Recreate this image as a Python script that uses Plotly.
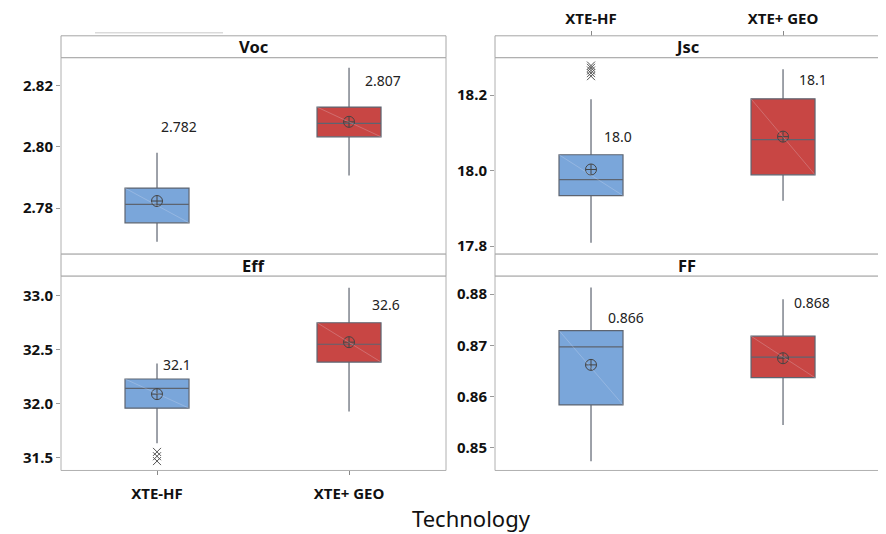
import plotly.graph_objects as go

PAGE_W, PAGE_H = 886, 534
OFF = 8  # default page body margin
W, H = PAGE_W - OFF, PAGE_H - OFF

groups = ["XTE-HF", "XTE+ GEO"]
group_pos = [0, 1]
fill_colors = ["#7aa6da", "#c84644"]

# ---- data (per group: XTE-HF, XTE+ GEO) ----
voc_low = [2.769, 2.7906]
voc_q1 = [2.7752, 2.8032]
voc_median = [2.7812, 2.8076]
voc_q3 = [2.7865, 2.8129]
voc_high = [2.798, 2.8257]
voc_mean = [2.7823, 2.8081]
voc_outliers = [[], []]
voc_labels = ["2.782", "2.807"]
voc_label_y = [2.8065, 2.8216]
voc_label_dx = [0.115, 0.175]

jsc_low = [17.809, 17.92]
jsc_q1 = [17.934, 17.989]
jsc_median = [17.976, 18.082]
jsc_q3 = [18.042, 18.19]
jsc_high = [18.189, 18.268]
jsc_mean = [18.003, 18.09]
jsc_outliers = [[18.25, 18.258, 18.265, 18.272, 18.278], []]
jsc_labels = ["18.0", "18.1"]
jsc_label_y = [18.09, 18.24]
jsc_label_dx = [0.14, 0.155]

eff_low = [31.635, 31.93]
eff_q1 = [31.96, 32.387]
eff_median = [32.144, 32.552]
eff_q3 = [32.23, 32.751]
eff_high = [32.374, 33.076]
eff_mean = [32.09, 32.571]
eff_outliers = [[31.555, 31.515, 31.47], []]
eff_labels = ["32.1", "32.6"]
eff_label_y = [32.36, 32.92]
eff_label_dx = [0.105, 0.19]

ff_low = [0.8474, 0.8545]
ff_q1 = [0.8584, 0.8637]
ff_median = [0.8697, 0.8677]
ff_q3 = [0.8729, 0.8718]
ff_high = [0.8813, 0.8790]
ff_mean = [0.8662, 0.8675]
ff_outliers = [[], []]
ff_labels = ["0.866", "0.868"]
ff_label_y = [0.8755, 0.8784]
ff_label_dx = [0.18, 0.15]

panel_titles = ["Voc", "Jsc", "Eff", "FF"]
voc_ticks = [2.78, 2.80, 2.82]
jsc_ticks = [17.8, 18.0, 18.2]
eff_ticks = [31.5, 32.0, 32.5, 33.0]
ff_ticks = [0.85, 0.86, 0.87, 0.88]
# --------------------------------------------------------------------

panels = [
    dict(title=panel_titles[0], low=voc_low, q1=voc_q1, med=voc_median, q3=voc_q3, high=voc_high,
         mean=voc_mean, out=voc_outliers, labels=voc_labels, ly=voc_label_y, ldx=voc_label_dx,
         ticks=voc_ticks, fmt=".2f", yrange=[2.765, 2.829]),
    dict(title=panel_titles[1], low=jsc_low, q1=jsc_q1, med=jsc_median, q3=jsc_q3, high=jsc_high,
         mean=jsc_mean, out=jsc_outliers, labels=jsc_labels, ly=jsc_label_y, ldx=jsc_label_dx,
         ticks=jsc_ticks, fmt=".1f", yrange=[17.779, 18.299]),
    dict(title=panel_titles[2], low=eff_low, q1=eff_q1, med=eff_median, q3=eff_q3, high=eff_high,
         mean=eff_mean, out=eff_outliers, labels=eff_labels, ly=eff_label_y, ldx=eff_label_dx,
         ticks=eff_ticks, fmt=".1f", yrange=[31.383, 33.184]),
    dict(title=panel_titles[3], low=ff_low, q1=ff_q1, med=ff_median, q3=ff_q3, high=ff_high,
         mean=ff_mean, out=ff_outliers, labels=ff_labels, ly=ff_label_y, ldx=ff_label_dx,
         ticks=ff_ticks, fmt=".2f", yrange=[0.84561, 0.88354]),
]

# layout geometry (page pixels)
col_x = [(61, 446), (495, 880)]
row_y = [(55, 253), (275, 471)]
strip_h = 22

def px_x(v):
    return (v - OFF) / W

def px_y(v):
    return (H - (v - OFF)) / H

FONT = "Noto Sans"
BOX_LINE = "#5d6470"
BORDER = "#b0b0b0"

fig = go.Figure()
layout = dict(
    width=W, height=H, margin=dict(l=0, r=0, t=0, b=0),
    paper_bgcolor="white", plot_bgcolor="white", showlegend=False,
    font=dict(family=FONT, color="#111"),
)
shapes = []
annotations = []

for i, p in enumerate(panels):
    r, c = divmod(i, 2)
    n = i + 1
    xa = "x" if n == 1 else f"x{n}"
    ya = "y" if n == 1 else f"y{n}"
    xkey = "xaxis" if n == 1 else f"xaxis{n}"
    ykey = "yaxis" if n == 1 else f"yaxis{n}"
    x0p, x1p = col_x[c]
    y0p, y1p = row_y[r]

    for g in range(2):
        fig.add_trace(go.Box(
            x=[group_pos[g]], q1=[p["q1"][g]], median=[p["med"][g]], q3=[p["q3"][g]],
            lowerfence=[p["low"][g]], upperfence=[p["high"][g]],
            fillcolor=fill_colors[g], line=dict(color=BOX_LINE, width=1.2),
            whiskerwidth=0, width=1/3, boxpoints=False, hoverinfo="skip",
            xaxis=xa, yaxis=ya,
        ))
        shapes.append(dict(type="line", xref=xa, yref=ya,
                           x0=group_pos[g] - 1/6, x1=group_pos[g] + 1/6,
                           y0=p["q3"][g], y1=p["q1"][g],
                           line=dict(color="rgba(235,235,245,0.3)", width=0.8)))
        if p["out"][g]:
            fig.add_trace(go.Scatter(
                x=[group_pos[g]] * len(p["out"][g]), y=p["out"][g], mode="markers",
                marker=dict(symbol="x-thin-open", size=8, color="#555",
                            line=dict(color="#555", width=1)),
                xaxis=xa, yaxis=ya, hoverinfo="skip"))
        fig.add_trace(go.Scatter(
            x=[group_pos[g]], y=[p["mean"][g]], mode="markers",
            marker=dict(symbol="circle-cross-open", size=11, color="#454545",
                        line=dict(color="#454545", width=1)),
            xaxis=xa, yaxis=ya, hoverinfo="skip"))
        annotations.append(dict(
            x=group_pos[g] + p["ldx"][g], y=p["ly"][g], xref=xa, yref=ya,
            text=p["labels"][g], showarrow=False, xanchor="center", yanchor="middle",
            font=dict(size=14, color="#222", family=FONT)))

    xdict = dict(domain=[px_x(x0p), px_x(x1p)], anchor=ya, range=[-0.5, 1.505],
                 tickvals=group_pos, ticktext=groups, showgrid=False, zeroline=False,
                 showline=False, showticklabels=False, ticks="")
    if i == 2:
        xdict.update(showticklabels=True, ticks="outside", ticklen=4, tickcolor="#888",
                     tickfont=dict(size=15, color="#111", family=FONT, weight="bold"),
                     ticklabelstandoff=6)
    if i == 1:
        xdict.update(showticklabels=True, ticks="outside", ticklen=5, tickcolor="#888",
                     side="top", anchor="free", position=px_y(33),
                     tickfont=dict(size=15, color="#111", family=FONT, weight="bold"),
                     ticklabelstandoff=1)
    layout[xkey] = xdict
    layout[ykey] = dict(domain=[px_y(y1p), px_y(y0p)], anchor=xa, range=p["yrange"],
                        tickvals=p["ticks"], tickformat=p["fmt"], showgrid=False,
                        zeroline=False, showline=False, ticks="outside", ticklen=4,
                        tickcolor="#999",
                        tickfont=dict(size=15, color="#111", family=FONT, weight="bold"))

    shapes.append(dict(type="rect", xref="paper", yref="paper",
                       x0=px_x(x0p), x1=px_x(x1p), y0=px_y(y1p), y1=px_y(y0p),
                       line=dict(color=BORDER, width=1), fillcolor="rgba(0,0,0,0)",
                       layer="above"))
    shapes.append(dict(type="rect", xref="paper", yref="paper",
                       x0=px_x(x0p), x1=px_x(x1p), y0=px_y(y0p), y1=px_y(y0p - strip_h),
                       line=dict(color="#a6a6a6", width=1), fillcolor="white"))
    annotations.append(dict(x=(px_x(x0p) + px_x(x1p)) / 2, y=px_y(y0p - strip_h / 2),
                            xref="paper", yref="paper", text=p["title"], showarrow=False,
                            xanchor="center", yanchor="middle",
                            font=dict(size=16.5, color="#111", family=FONT, weight="bold")))

shapes.append(dict(type="line", xref="paper", yref="paper",
                   x0=px_x(95), x1=px_x(223), y0=px_y(30), y1=px_y(30),
                   line=dict(color="#c8c8c8", width=1)))

annotations.append(dict(x=px_x(471), y=px_y(519), xref="paper", yref="paper",
                        text="Technology", showarrow=False, xanchor="center",
                        yanchor="middle", font=dict(size=22, color="#111", family=FONT)))

layout["shapes"] = shapes
layout["annotations"] = annotations
fig.update_layout(**layout)
fig.write_html("out.html")
